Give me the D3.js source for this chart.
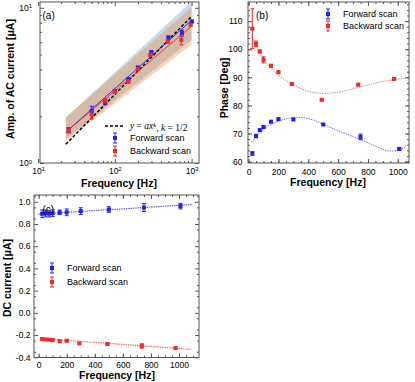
<!DOCTYPE html>
<html>
<head>
<meta charset="utf-8">
<script src="https://cdn.jsdelivr.net/npm/d3@7"></script>
<style>
body{margin:0;background:#fff}
text{font-family:"Liberation Sans",Arial,sans-serif;fill:#000}
</style>
</head>
<body>
<svg id="fig" width="415" height="382"></svg>
<script>
// drive frequencies [Hz]
var fwdFreq = [25,50,75,100,150,200,300,500,750,1010];
var bwdFreq = [25,50,75,100,150,200,290,490,735,975];

// (a) amplitude of AC current [uA]
var acFwd    = [1.63,2.17,2.45,2.91,3.46,4.12,5.18,6.43,6.87,8.16];
var acFwdErr = [0.06,0.15,0.08,0.06,0.08,0.08,0.10,0.15,0.30,0.15];
var acBwd    = [1.62,2.04,2.52,2.88,3.35,4.04,4.98,6.06,6.22,7.77];
var acBwdErr = [0.06,0.12,0.08,0.06,0.08,0.08,0.10,0.15,0.45,0.12];
// fitted lines and confidence bands: [f, y] / [f, low, high]
var acFitFwd  = [[23,1.58],[1000,8.3]];
var acFitBwd  = [[23,1.58],[1000,7.6]];
var acBandFwd = [[23,1.42,1.96],[1000,6.2,11.0]];
var acBandBwd = [[23,1.38,1.97],[1000,5.8,10.1]];
var powerLaw  = [[23,1.32],[1000,8.8]];

// (b) phase [deg]
var phFwd    = [62.9,69.1,71.2,72.3,74.2,75.1,75.0,73.2,68.8,64.5];
var phFwdErr = [0.6,0.6,0.4,0.4,0.4,0.4,0.4,0.3,1.0,0.4];
var phBwd    = [107.3,101.9,99.2,96.2,94.1,91.8,87.6,82.0,87.4,89.4];
var phBwdErr = [7.1,1.0,0.5,1.1,0.5,0.4,0.4,0.3,0.4,0.4];
var phFitFwd = [[20,67.0],[100,71.5],[200,74.4],[300,75.6],[400,75.3],[500,73.3],[600,71.0],[700,68.9],[800,66.7],[900,64.3],[950,63.8],[1000,64.0],[1050,65.2]];
var phFitBwd = [[20,104.3],[100,96.5],[200,90.8],[300,87.3],[400,85.0],[500,84.3],[600,84.7],[700,85.9],[800,87.3],[900,88.5],[1000,89.3],[1050,89.6]];

// (c) DC current [uA]
var dcFwd    = [0.892,0.895,0.893,0.897,0.905,0.905,0.916,0.930,0.948,0.961];
var dcFwdErr = [0.035,0.03,0.03,0.03,0.02,0.03,0.03,0.025,0.035,0.025];
var dcBwd    = [-0.236,-0.240,-0.242,-0.245,-0.256,-0.251,-0.275,-0.281,-0.298,-0.317];
var dcBwdErr = [0.01,0.008,0.008,0.008,0.008,0.01,0.008,0.008,0.02,0.008];
var dcFitFwd = [[0,0.889],[1090,0.975]];
var dcFitBwd = [[14,-0.231],[1090,-0.329]];

var blue = "#2020f0", red = "#ee2a2a";
var svg = d3.select("#fig");

function zip(f, v, e){ return f.map(function(d,i){ return {f:d, v:v[i], e:e[i]}; }); }

function clip(id, x, y){
    svg.append("clipPath").attr("id",id).append("rect")
	.attr("x",x.range()[0]).attr("y",y.range()[1])
	.attr("width",x.range()[1]-x.range()[0]).attr("height",y.range()[0]-y.range()[1]);
}

function frame(g, x, y){
    g.append("rect")
	.attr("x",x.range()[0]).attr("y",y.range()[1])
	.attr("width",x.range()[1]-x.range()[0]).attr("height",y.range()[0]-y.range()[1])
	.attr("fill","none").attr("stroke","#555").attr("stroke-width",1);
}

// ticks point inward, Mathematica style, mirrored on top/right without labels
function axes(g, x, y, o){
    var bot = y.range()[0], top = y.range()[1], lft = x.range()[0], rgt = x.range()[1];
    function put(axis, tr, vals, size, fmt, pad){
	var a = g.append("g").attr("transform",tr)
	    .call(axis.tickValues(vals).tickSize(size).tickPadding(pad||3).tickFormat(fmt||""));
	a.select(".domain").remove();
	a.selectAll("line").attr("stroke","#555");
	a.selectAll("text").attr("font-family",null).style("font-size","8.5px");
	return a;
    }
    put(d3.axisBottom(x), "translate(0,"+bot+")", o.xMinor, -2);
    put(d3.axisTop(x), "translate(0,"+top+")", o.xMinor, -2);
    put(d3.axisLeft(y), "translate("+lft+",0)", o.yMinor, -2);
    put(d3.axisRight(y), "translate("+rgt+",0)", o.yMinor, -2);
    put(d3.axisTop(x), "translate(0,"+top+")", o.xMajor, -4);
    put(d3.axisRight(y), "translate("+rgt+",0)", o.yMajor, -4);
    var xa = put(d3.axisBottom(x), "translate(0,"+bot+")", o.xMajor, -4, o.xFmt, o.xPad);
    var ya = put(d3.axisLeft(y), "translate("+lft+",0)", o.yMajor, -4, o.yFmt, o.yPad);
    if(o.sup){
	[xa, ya].forEach(function(a){
	    a.selectAll("text").text(null).each(function(d){
		var t = d3.select(this);
		t.append("tspan").text("10");
		t.append("tspan").attr("dy","-0.45em").style("font-size","6px").text(Math.round(Math.log10(d)));
	    });
	});
    }
}

function errPoints(g, x, y, data, col){
    var p = g.append("g").selectAll("g").data(data).enter().append("g");
    p.append("line")
	.attr("x1",function(d){ return x(d.f); }).attr("x2",function(d){ return x(d.f); })
	.attr("y1",function(d){ return y(d.v-d.e); }).attr("y2",function(d){ return y(d.v+d.e); })
	.attr("stroke",col).attr("stroke-width",1);
    [-1,1].forEach(function(s){
	p.append("line")
	    .attr("x1",function(d){ return x(d.f)-2; }).attr("x2",function(d){ return x(d.f)+2; })
	    .attr("y1",function(d){ return y(d.v+s*d.e); }).attr("y2",function(d){ return y(d.v+s*d.e); })
	    .attr("stroke",col).attr("stroke-width",1);
    });
    p.append("rect")
	.attr("x",function(d){ return x(d.f)-2; }).attr("y",function(d){ return y(d.v)-2; })
	.attr("width",4).attr("height",4).attr("fill",col);
}

function legendItem(g, lx, ly, col, label){
    g.append("line").attr("x1",lx).attr("x2",lx).attr("y1",ly-5).attr("y2",ly+5).attr("stroke",col);
    g.append("line").attr("x1",lx-2).attr("x2",lx+2).attr("y1",ly-5).attr("y2",ly-5).attr("stroke",col);
    g.append("line").attr("x1",lx-2).attr("x2",lx+2).attr("y1",ly+5).attr("y2",ly+5).attr("stroke",col);
    g.append("rect").attr("x",lx-2).attr("y",ly-2).attr("width",4).attr("height",4).attr("fill",col);
    g.append("text").attr("x",lx+15).attr("y",ly+3.3).style("font-size","9px").text(label);
}

function titles(g, xt, xc, xb, yt, yx, yc, tag, tx, ty){
    g.append("text").attr("x",xc).attr("y",xb).attr("text-anchor","middle")
	.style("font-size","10.5px").style("font-weight","bold").text(xt);
    g.append("text").attr("transform","translate("+yx+","+yc+") rotate(-90)").attr("text-anchor","middle")
	.style("font-size","10.5px").style("font-weight","bold").text(yt);
    g.append("text").attr("x",tx).attr("y",ty).style("font-size","10px").text(tag);
}

// ---------- (a) ----------
var xA = d3.scaleLog().domain([10.6,1250]).range([40,199]);
var yA = d3.scaleLog().domain([1,10.9]).range([163,2]);
clip("clipA", xA, yA);
var gA = svg.append("g");
var pA = gA.append("g").attr("clip-path","url(#clipA)");
var band = function(x,y){ return d3.area().x(function(d){ return x(d[0]); }).y0(function(d){ return y(d[1]); }).y1(function(d){ return y(d[2]); }); };
var line = function(x,y){ return d3.line().x(function(d){ return x(d[0]); }).y(function(d){ return y(d[1]); }); };
pA.append("path").attr("d",band(xA,yA)(acBandFwd)).attr("fill","rgba(80,140,200,0.32)");
pA.append("path").attr("d",band(xA,yA)(acBandBwd)).attr("fill","rgba(240,130,40,0.34)");
pA.append("path").attr("d",line(xA,yA)(powerLaw)).attr("fill","none").attr("stroke","#000").attr("stroke-width",1.5).attr("stroke-dasharray","3,2");
pA.append("path").attr("d",line(xA,yA)(acFitFwd)).attr("fill","none").attr("stroke",blue).attr("stroke-width",0.9);
pA.append("path").attr("d",line(xA,yA)(acFitBwd)).attr("fill","none").attr("stroke",red).attr("stroke-width",0.9);
errPoints(pA, xA, yA, zip(fwdFreq, acFwd, acFwdErr), blue);
errPoints(pA, xA, yA, zip(bwdFreq, acBwd, acBwdErr), red);
frame(gA, xA, yA);
axes(gA, xA, yA, {
    xMajor:[10,100,1000], xMinor:[20,30,40,50,60,70,80,90,200,300,400,500,600,700,800,900],
    yMajor:[1,10], yMinor:[2,3,4,5,6,7,8,9], sup:true, xPad:5, yPad:8
});
titles(gA, "Frequency [Hz]", 119, 187, "Amp. of AC current [\u03bcA]", 13.5, 79, "(a)", 42.5, 18.5);
// legend (a)
gA.append("line").attr("x1",105).attr("x2",125).attr("y1",126).attr("y2",126)
    .attr("stroke","#000").attr("stroke-width",1.5).attr("stroke-dasharray","3,2");
var eq = gA.append("text").attr("x",130).attr("y",129.3)
    .style("font-family","'Liberation Serif','Times New Roman',serif").style("font-size","9.5px");
eq.append("tspan").style("font-style","italic").text("y");
eq.append("tspan").text(" = ");
eq.append("tspan").style("font-style","italic").text("ax");
eq.append("tspan").attr("dy","-0.4em").style("font-size","6.5px").style("font-style","italic").text("k");
eq.append("tspan").attr("dy","0.4em").text(", ");
eq.append("tspan").style("font-style","italic").text("k");
eq.append("tspan").text(" = 1/2");
legendItem(gA, 115, 138, blue, "Forward scan");
legendItem(gA, 115, 151, red, "Backward scan");

// ---------- (b) ----------
var xB = d3.scaleLinear().domain([-4,1075]).range([248,409]);
var yB = d3.scaleLinear().domain([59.5,116.8]).range([163,2]);
clip("clipB", xB, yB);
var gB = svg.append("g");
var pB = gB.append("g").attr("clip-path","url(#clipB)");
var curve = function(x,y){ return line(x,y).curve(d3.curveNatural); };
pB.append("path").attr("d",curve(xB,yB)(phFitFwd)).attr("fill","none").attr("stroke",blue).attr("stroke-opacity",0.7).attr("stroke-width",0.9).attr("stroke-dasharray","1.5,1");
pB.append("path").attr("d",curve(xB,yB)(phFitBwd)).attr("fill","none").attr("stroke",red).attr("stroke-opacity",0.7).attr("stroke-width",0.9).attr("stroke-dasharray","1.5,1");
errPoints(pB, xB, yB, zip(fwdFreq, phFwd, phFwdErr), blue);
errPoints(pB, xB, yB, zip(bwdFreq, phBwd, phBwdErr), red);
frame(gB, xB, yB);
axes(gB, xB, yB, {
    xMajor:[0,200,400,600,800,1000], xMinor:d3.range(0,1075,50),
    yMajor:[60,70,80,90,100,110], yMinor:d3.range(60,117,2),
    xFmt:function(d){ return d; }, yFmt:function(d){ return d; }, xPad:5.5, yPad:5.5
});
titles(gB, "Frequency [Hz]", 328, 186, "Phase [Deg]", 228, 88, "(b)", 256, 18.5);
legendItem(gB, 328, 14, blue, "Forward scan");
legendItem(gB, 328, 26, red, "Backward scan");

// ---------- (c) ----------
var xC = d3.scaleLinear().domain([-33,1142]).range([34,199]);
var yC = d3.scaleLinear().domain([-0.402,1.061]).range([357.5,195]);
clip("clipC", xC, yC);
var gC = svg.append("g");
var pC = gC.append("g").attr("clip-path","url(#clipC)");
pC.append("path").attr("d",line(xC,yC)(dcFitFwd)).attr("fill","none").attr("stroke",blue).attr("stroke-opacity",0.7).attr("stroke-width",1.2).attr("stroke-dasharray","1.5,0.8");
pC.append("path").attr("d",line(xC,yC)(dcFitBwd)).attr("fill","none").attr("stroke",red).attr("stroke-opacity",0.7).attr("stroke-width",1.2).attr("stroke-dasharray","1.5,0.8");
errPoints(pC, xC, yC, zip(fwdFreq, dcFwd, dcFwdErr), blue);
errPoints(pC, xC, yC, zip(bwdFreq, dcBwd, dcBwdErr), red);
frame(gC, xC, yC);
axes(gC, xC, yC, {
    xMajor:[0,200,400,600,800,1000], xMinor:d3.range(0,1142,50),
    yMajor:[-0.4,-0.2,0,0.2,0.4,0.6,0.8,1.0], yMinor:d3.range(-0.35,1.06,0.1),
    xFmt:function(d){ return d; }, yFmt:function(d){ return d.toFixed(1); }, xPad:4, yPad:3.5
});
titles(gC, "Frequency [Hz]", 117, 379, "DC current [\u03bcA]", 10.5, 278, "(c)", 42.5, 212.5);
legendItem(gC, 52, 268, blue, "Forward scan");
legendItem(gC, 52, 282, red, "Backward scan");
</script>
</body>
</html>
